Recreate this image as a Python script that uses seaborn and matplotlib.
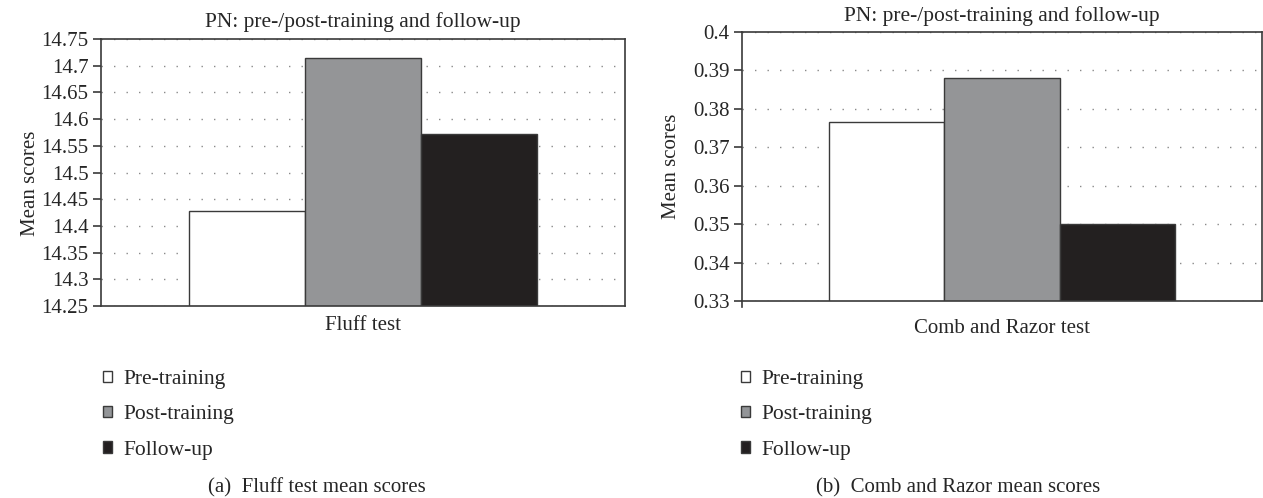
import pandas as pd
import matplotlib
matplotlib.use('Agg')
import matplotlib.pyplot as plt
from matplotlib.patches import Patch
from matplotlib.ticker import MultipleLocator, FuncFormatter
import seaborn as sns

# values
phases = ['Pre-training', 'Post-training', 'Follow-up']
fluff_scores = [14.428, 14.714, 14.572]
comb_scores = [0.3765, 0.3879, 0.3501]
test_names = ['Fluff test', 'Comb and Razor test']
captions = ['(a)  Fluff test mean scores', '(b)  Comb and Razor mean scores']
title = 'PN: pre-/post-training and follow-up'

colors = ['#ffffff', '#939598', '#231f20']
edge = '#3a3a3a'

sns.set_style('white')
plt.rcParams['font.family'] = ['Liberation Serif', 'DejaVu Serif']
plt.rcParams['font.size'] = 15

W, H = 1263, 498
fig = plt.figure(figsize=(W / 100, H / 100), dpi=100)


def px_axes(x0, x1, top, bottom):
    return fig.add_axes([x0 / W, (H - bottom) / H, (x1 - x0) / W, (bottom - top) / H])


panels = [
    dict(ax=px_axes(101, 625, 39, 306), scores=fluff_scores, ylim=(14.25, 14.75), step=0.05,
         xpad=7, ylab=(-0.135, 0.46), legx=103, capx=317, tpad=9),
    dict(ax=px_axes(742, 1262, 32, 301), scores=comb_scores, ylim=(0.33, 0.40), step=0.01,
         xpad=13, ylab=(-0.135, 0.5), legx=741, capx=958, tpad=8),
]

for p, test, cap in zip(panels, test_names, captions):
    ax = p['ax']
    df = pd.DataFrame({'test': [test] * len(phases), 'phase': phases, 'score': p['scores']})
    sns.barplot(data=df, x='test', y='score', hue='phase', palette=colors, width=0.665,
                edgecolor=edge, linewidth=1, ax=ax, legend=False)
    ax.set_ylim(*p['ylim'])
    ax.set_xlim(-0.5, 0.5)
    ax.yaxis.set_major_locator(MultipleLocator(p['step']))
    ax.yaxis.set_major_formatter(FuncFormatter(lambda v, pos: f'{v:g}'))
    ax.yaxis.grid(True, linestyle=(0, (1, 8)), color='#8a8a8a', linewidth=1)
    ax.set_axisbelow(True)
    for s in ax.spines.values():
        s.set_color(edge)
        s.set_linewidth(1.2)
    ax.tick_params(axis='y', direction='out', length=6, width=1.2, color=edge, left=True,
                   pad=3, labelsize=15)
    ax.tick_params(axis='x', length=0, pad=p['xpad'], labelsize=15)
    ax.set_xlabel('')
    ax.set_ylabel('Mean scores', fontsize=15)
    ax.yaxis.set_label_coords(*p['ylab'])
    ax.yaxis.label.set_va('center')
    ax.set_title(title, fontsize=15.5, pad=p['tpad'])

    handles = [Patch(facecolor=c, edgecolor=edge, linewidth=1) for c in colors]
    ax.legend(handles, phases, loc='upper left', frameon=False,
              bbox_to_anchor=(p['legx'] / W, (H - 370) / H), bbox_transform=fig.transFigure,
              borderaxespad=0, borderpad=0, handlelength=0.42, handleheight=0.42,
              handletextpad=0.55, labelspacing=0.76, fontsize=15.5)
    fig.text(p['capx'] / W, (H - 488) / H, cap, ha='center', va='center', fontsize=15)

# small drop of the left spine below the x axis on panel (b)
panels[1]['ax'].spines['left'].set_bounds(0.3285, 0.40)

fig.savefig('out.png', dpi=100)
